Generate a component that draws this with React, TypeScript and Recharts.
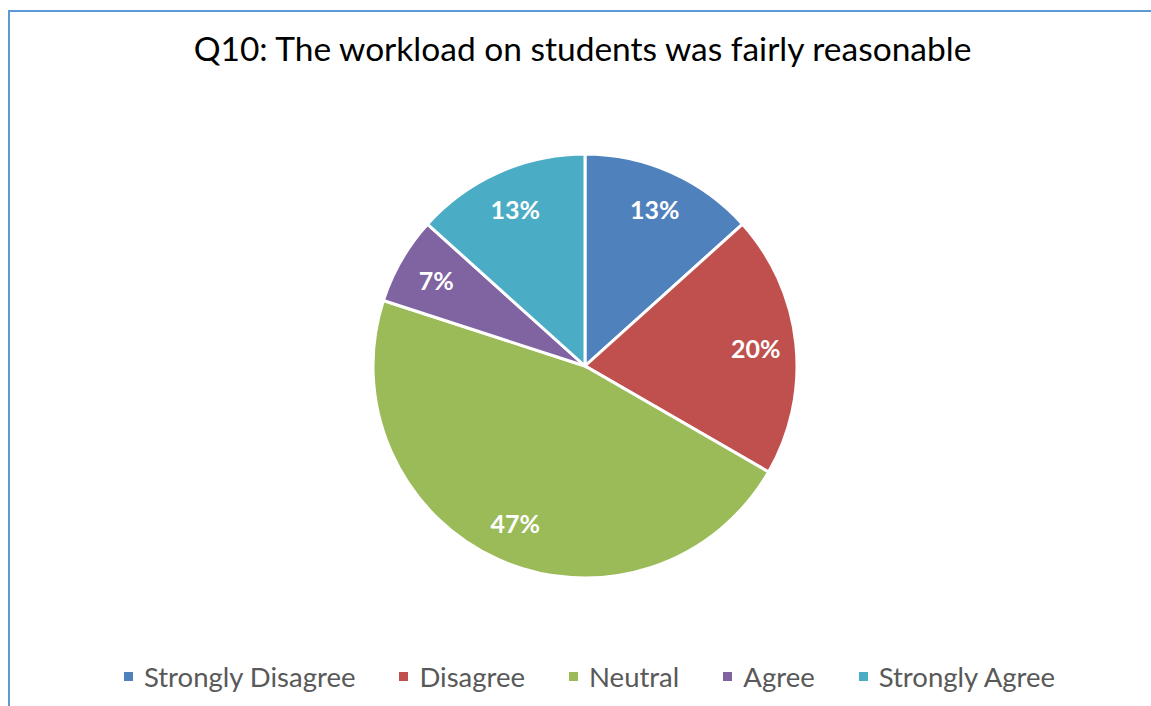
import React from "react";
import { PieChart, Pie, Cell, Legend } from "recharts";

const categories = ["Strongly Disagree", "Disagree", "Neutral", "Agree", "Strongly Agree"];
const responses = [2, 3, 7, 1, 2];
const colors = ["#4F81BD", "#C0504D", "#9BBB59", "#8064A2", "#4BACC6"];

const data = categories.map((name, i) => ({ name, value: responses[i] }));

const RADIAN = Math.PI / 180;
const FONT = "Lato, 'Open Sans', sans-serif";

const renderLabel = (props: any) => {
  const { cx, cy, midAngle, outerRadius, percent } = props;
  const r = outerRadius * 0.81;
  const x = cx + r * Math.cos(-midAngle * RADIAN);
  const y = cy + r * Math.sin(-midAngle * RADIAN);
  return (
    <text
      x={x}
      y={y}
      fill="#FFFFFF"
      textAnchor="middle"
      dominantBaseline="central"
      fontSize={25}
      fontWeight="bold"
      fontFamily={FONT}
    >
      {`${Math.round(percent * 100)}%`}
    </text>
  );
};

const renderLegend = () => (
  <div
    style={{
      display: "flex",
      justifyContent: "center",
      gap: 44,
      fontFamily: FONT,
      fontSize: 27.5,
      color: "#595959",
    }}
  >
    {categories.map((c, i) => (
      <div key={c} style={{ display: "flex", alignItems: "center" }}>
        <span
          style={{
            width: 9,
            height: 9,
            background: colors[i],
            display: "inline-block",
            marginRight: 11,
          }}
        />
        <span>{c}</span>
      </div>
    ))}
  </div>
);

export default function App() {
  return (
    <div
      style={{
        position: "absolute",
        left: 0,
        top: 0,
        width: 1151,
        height: 706,
        background: "#FFFFFF",
        overflow: "hidden",
      }}
    >
      <div
        style={{
          position: "absolute",
          left: 8,
          top: 10,
          width: 1200,
          height: 800,
          borderLeft: "2px solid #5B9BD5",
          borderTop: "2px solid #5B9BD5",
        }}
      />
      <div
        style={{
          position: "absolute",
          left: 0,
          top: 28,
          width: 1165,
          textAlign: "center",
          fontFamily: FONT,
          fontSize: 33.5,
          color: "#000000",
        }}
      >
        Q10: The workload on students was fairly reasonable
      </div>
      <div style={{ position: "absolute", left: 0, top: 0 }}>
        <PieChart width={1151} height={706} margin={{ top: 0, right: 0, bottom: 0, left: 0 }}>
          <Pie
            data={data}
            dataKey="value"
            nameKey="name"
            cx={585}
            cy={366}
            outerRadius={212}
            startAngle={90}
            endAngle={-270}
            stroke="#FFFFFF"
            strokeWidth={3}
            label={renderLabel}
            labelLine={false}
            isAnimationActive={false}
          >
            {data.map((d, i) => (
              <Cell key={d.name} fill={colors[i]} />
            ))}
          </Pie>
          <Legend
            content={renderLegend}
            wrapperStyle={{ position: "absolute", top: 660, left: 14, width: 1151 }}
          />
        </PieChart>
      </div>
    </div>
  );
}
